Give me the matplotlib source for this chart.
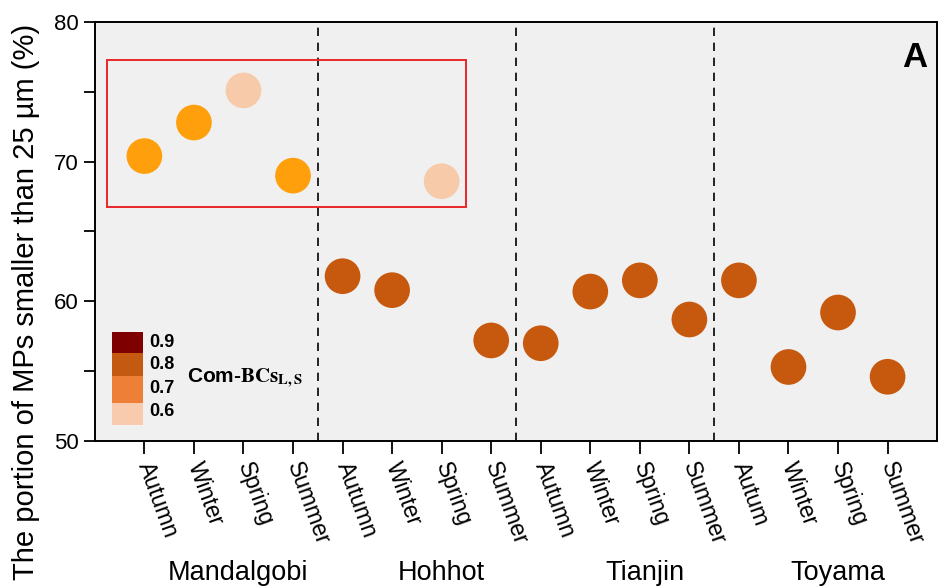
import matplotlib.pyplot as plt
import matplotlib.patches as mpatches
from matplotlib.ticker import MultipleLocator

plt.rcParams['font.family'] = ['Liberation Sans', 'DejaVu Sans']
plt.rcParams['mathtext.fontset'] = 'stix'

# sampling sites and seasons
cities = ['Mandalgobi', 'Hohhot', 'Tianjin', 'Toyama']
seasons = [['Autumn', 'Winter', 'Spring', 'Summer'],
           ['Autumn', 'Winter', 'Spring', 'Summer'],
           ['Autumn', 'Winter', 'Spring', 'Summer'],
           ['Autum', 'Winter', 'Spring', 'Summer']]

# portion of MPs < 25 um (%)
mandalgobi = [70.4, 72.8, 75.1, 69.0]
hohhot = [61.8, 60.8, 68.6, 57.2]
tianjin = [57.0, 60.7, 61.5, 58.7]
toyama = [61.5, 55.3, 59.2, 54.6]

# colour class of each point
mandalgobi_cls = ['orange', 'orange', 'light', 'orange']
hohhot_cls = ['brown', 'brown', 'light', 'brown']
tianjin_cls = ['brown', 'brown', 'brown', 'brown']
toyama_cls = ['brown', 'brown', 'brown', 'brown']

palette = {'orange': '#FF9F0C', 'brown': '#C7590F', 'light': '#F7CAAA'}

# Com-BCs colour key
key_levels = ['0.9', '0.8', '0.7', '0.6']
key_colors = ['#7E0000', '#C45A12', '#EE7F36', '#F8CBAE']

values = mandalgobi + hohhot + tianjin + toyama
classes = mandalgobi_cls + hohhot_cls + tianjin_cls + toyama_cls
labels = [s for grp in seasons for s in grp]
xpos = list(range(1, len(values) + 1))

fig = plt.figure(figsize=(9.39, 5.86), dpi=100)
ax = fig.add_axes([0.101, 0.2474, 0.897, 0.7151])
ax.set_facecolor('#F0F0F0')

ax.scatter(xpos, values, s=660, c=[palette[c] for c in classes],
           edgecolors='none', zorder=3)

# separators between sites
for xs in [4.5, 8.5, 12.5]:
    ax.axvline(xs, color='black', ls=(0, (5, 4)), lw=1.2, zorder=2)

# highlight box around the high values
ax.add_patch(mpatches.Rectangle((0.24, 66.76), 7.26, 10.52, fill=False,
                                edgecolor='#E8262A', lw=1.4, zorder=4))

ax.set_xlim(0, 17)
ax.set_ylim(50, 80)
ax.set_xticks(xpos)
ax.set_xticklabels(labels, rotation=-70, ha='left', va='center',
                   rotation_mode='anchor', fontsize=16.5)
ax.yaxis.set_major_locator(MultipleLocator(10))
ax.yaxis.set_minor_locator(MultipleLocator(5))
ax.tick_params(axis='y', which='both', direction='out', length=8, width=1.3,
               labelsize=16)
ax.tick_params(axis='x', direction='out', length=9, width=1.3, pad=7)
for sp in ax.spines.values():
    sp.set_linewidth(1.4)

fig.text(0.028, 0.4855, 'The portion of MPs smaller than 25 µm (%)',
         rotation=90, ha='center', va='center', fontsize=21)

for name, xc in zip(cities, [2.88, 7.0, 11.1, 15.0]):
    ax.text(xc, -0.315, name, transform=ax.get_xaxis_transform(),
            ha='center', va='center', fontsize=19.5)

ax.text(0.988, 0.915, 'A', transform=ax.transAxes, ha='right', va='center',
        fontsize=25, fontweight='bold')

# colour key drawn in axes fraction
kx, kw = 0.0201, 0.0367
bounds = [0.259, 0.209, 0.155, 0.091, 0.038]
for i, col in enumerate(key_colors):
    y0, y1 = bounds[i + 1], bounds[i]
    ax.add_patch(mpatches.Rectangle((kx, y0), kw, y1 - y0, color=col,
                                    transform=ax.transAxes, zorder=4, lw=0))
for lv, yc in zip(key_levels, [0.235, 0.183, 0.125, 0.07]):
    ax.text(kx + kw + 0.008, yc, lv, transform=ax.transAxes, ha='left',
            va='center', fontsize=13, fontweight='bold')
ax.text(0.110, 0.15, r'Com-$\mathbf{BCs}_{\mathbf{L,S}}$',
        transform=ax.transAxes, ha='left', va='center', fontsize=15,
        fontweight='bold')

fig.savefig('out.png', dpi=100)
